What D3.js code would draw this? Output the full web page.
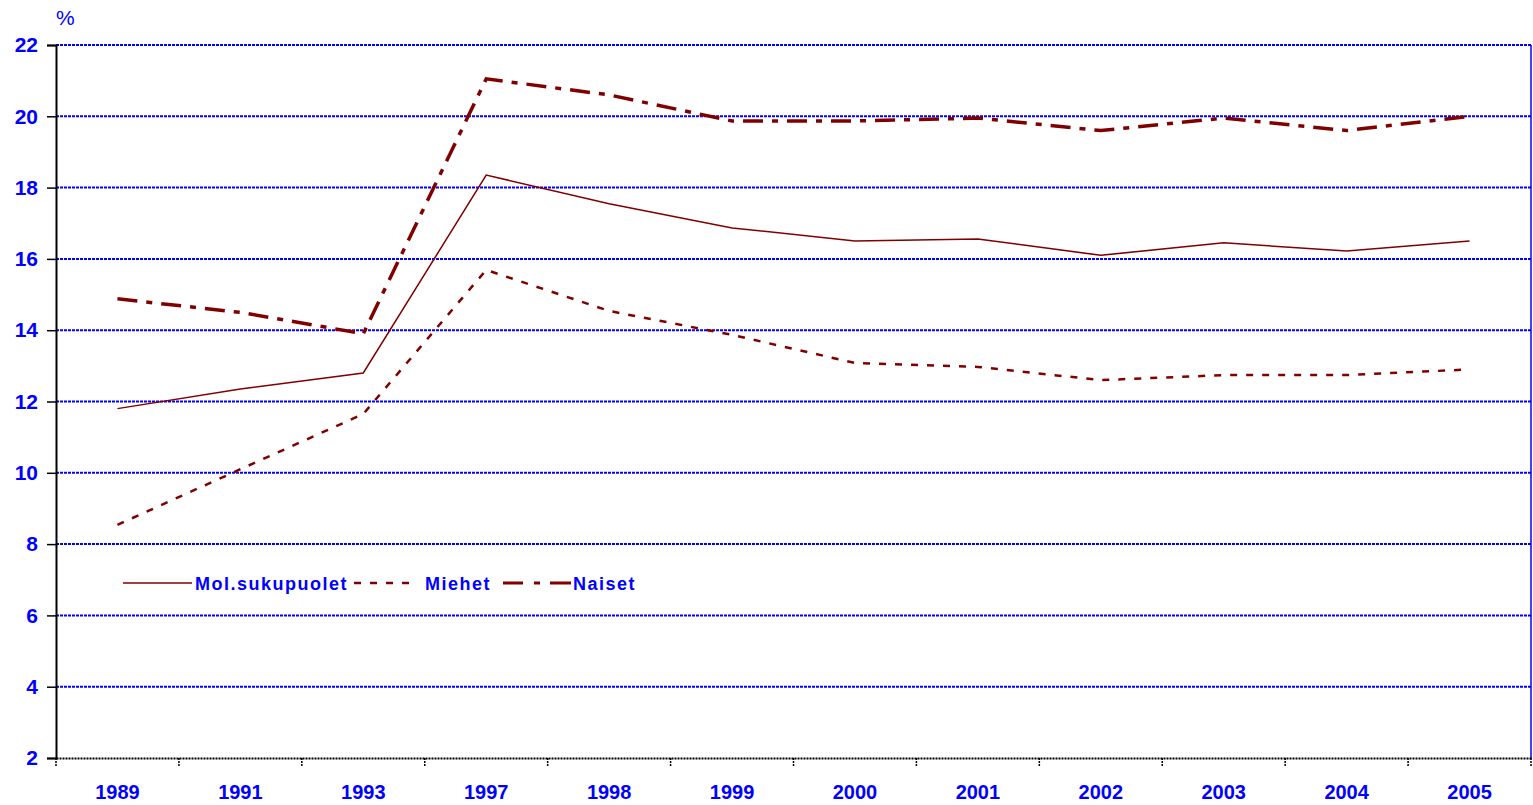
<!DOCTYPE html>
<html><head><meta charset="utf-8">
<script src="https://cdn.jsdelivr.net/npm/d3@7"></script>
<style>
body{margin:0;background:#fff;}
text{font-family:"Liberation Sans",Arial,sans-serif;font-weight:bold;fill:#0000ff;}
</style></head><body>
<svg id="c" width="1533" height="805"></svg>
<script>
const years = ["1989","1991","1993","1997","1998","1999","2000","2001","2002","2003","2004","2005"];
const molSukupuolet = [11.8,12.35,12.8,18.35,17.55,16.87,16.5,16.56,16.1,16.45,16.22,16.5];
const miehet = [8.54,10.1,11.65,15.69,14.54,13.87,13.08,12.97,12.6,12.74,12.74,12.9];
const naiset = [14.88,14.5,13.9,21.05,20.6,19.87,19.87,19.95,19.6,19.95,19.6,20.0];
const yTicks = [2,4,6,8,10,12,14,16,18,20,22];
const seriesNames = ["Mol.sukupuolet","Miehet","Naiset"];

const svg = d3.select("#c");
const L=56, R=1531, T=45, B=758;
const x = d3.scaleBand().domain(years).range([L,R]);
const y = d3.scaleLinear().domain([2,22]).range([B,T]);
const red = "#800000";

// gridlines
svg.append("g").selectAll("line").data(yTicks.filter(d=>d>2)).join("line")
  .attr("x1",L).attr("x2",R).attr("y1",d=>y(d)).attr("y2",d=>y(d))
  .attr("stroke","#0000ff").attr("stroke-width",2).attr("stroke-dasharray","3,1");
// right border
svg.append("line").attr("x1",R).attr("x2",R).attr("y1",T).attr("y2",B).attr("stroke","#0000ff").attr("stroke-width",1.5);

// y axis
const ya = svg.append("g").attr("transform",`translate(${L},0)`)
  .call(d3.axisLeft(y).tickValues(yTicks).tickSize(9).tickPadding(9).tickFormat(d3.format("d")));
ya.select(".domain").attr("stroke","#000").attr("stroke-width",2);
ya.selectAll(".tick line").attr("stroke","#000").attr("stroke-width",1.5);
ya.selectAll("text").style("font-size","21px").attr("fill","#0000ff");

// x axis
const xa = svg.append("g").attr("transform",`translate(0,${B})`)
  .call(d3.axisBottom(x).tickSize(0).tickPadding(27));
xa.select(".domain").attr("stroke","#000").attr("stroke-width",2).attr("stroke-dasharray","2,1");
xa.selectAll("text").style("font-size","20px").attr("fill","#0000ff");
// x ticks at band boundaries
const bounds = years.map(d=>x(d)).concat([R]);
svg.append("g").selectAll("line").data(bounds).join("line")
  .attr("x1",d=>d).attr("x2",d=>d).attr("y1",B).attr("y2",B+8)
  .attr("stroke","#000").attr("stroke-width",1.5).attr("stroke-dasharray","2,1");

svg.append("text").attr("x",56).attr("y",25).style("font-size","21px").style("font-weight","normal").text("%");

const line = d3.line().x((d,i)=>x(years[i])+x.bandwidth()/2).y(d=>y(d));
svg.append("path").datum(molSukupuolet).attr("d",line).attr("fill","none").attr("stroke",red).attr("stroke-width",1.5);
svg.append("path").datum(miehet).attr("d",line).attr("fill","none").attr("stroke",red).attr("stroke-width",2.5).attr("stroke-dasharray","7,9");
svg.append("path").datum(naiset).attr("d",line).attr("fill","none").attr("stroke",red).attr("stroke-width",3.5).attr("stroke-dasharray","20,9,6,9");

// legend
const lg = svg.append("g");
const ly = 583;
const fs = "18px", ls = "1.5px";
lg.append("line").attr("x1",123).attr("x2",192).attr("y1",ly).attr("y2",ly).attr("stroke",red).attr("stroke-width",1.5);
lg.append("text").attr("x",195).attr("y",ly+7).style("font-size",fs).style("letter-spacing",ls).text(seriesNames[0]);
lg.append("line").attr("x1",354).attr("x2",413).attr("y1",ly).attr("y2",ly).attr("stroke",red).attr("stroke-width",2.5).attr("stroke-dasharray","7,9");
lg.append("text").attr("x",425).attr("y",ly+7).style("font-size",fs).style("letter-spacing",ls).text(seriesNames[1]);
lg.append("line").attr("x1",503).attr("x2",571).attr("y1",ly).attr("y2",ly).attr("stroke",red).attr("stroke-width",3).attr("stroke-dasharray","20,11,6,10,21");
lg.append("text").attr("x",573).attr("y",ly+7).style("font-size",fs).style("letter-spacing",ls).text(seriesNames[2]);
</script>
</body></html>
